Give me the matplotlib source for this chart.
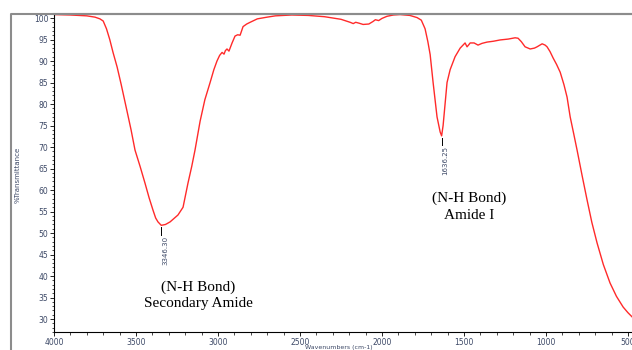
import matplotlib
matplotlib.use("Agg")
import matplotlib.pyplot as plt
from matplotlib.ticker import MultipleLocator
from matplotlib.lines import Line2D
from matplotlib.transforms import offset_copy

wavenumbers = [4000, 3900, 3800, 3750, 3720, 3700, 3680, 3660, 3640, 3615, 3590, 3555, 3530,
               3506, 3475, 3445, 3420, 3396, 3380, 3366, 3346, 3320, 3292, 3244, 3213, 3183,
               3160, 3140, 3109, 3080, 3048, 3025, 3006, 2990, 2975, 2963, 2955, 2945, 2933,
               2914, 2896, 2880, 2865, 2847, 2825, 2804, 2760, 2700, 2650, 2550, 2450, 2350,
               2250, 2194, 2175, 2160, 2140, 2115, 2080, 2054, 2040, 2020, 2000, 1969, 1930,
               1889, 1830, 1786, 1760, 1737, 1720, 1706, 1688, 1664, 1645, 1636, 1627, 1615,
               1603, 1584, 1554, 1523, 1493, 1481, 1470, 1462, 1438, 1414, 1390, 1359, 1320,
               1279, 1230, 1188, 1170, 1150, 1127, 1096, 1070, 1054, 1023, 1005, 993, 975,
               956, 935, 913, 890, 871, 852, 830, 810, 780, 749, 720, 688, 650, 609, 570,
               529, 500, 474]
transmittance = [100.8, 100.7, 100.5, 100.2, 99.8, 99.3, 97.5, 95.0, 92.0, 88.6, 84.5, 78.4, 74.0,
                 69.3, 65.5, 61.6, 58.2, 55.3, 53.5, 52.6, 51.8, 52.0, 52.6, 54.2, 56.0, 61.6,
                 65.5, 69.3, 76.0, 81.0, 85.0, 88.0, 90.0, 91.3, 92.0, 91.6, 92.4, 92.8, 92.3,
                 94.2, 95.8, 96.1, 96.0, 98.0, 98.6, 99.0, 99.8, 100.2, 100.5, 100.7, 100.6, 100.3,
                 99.7, 99.0, 98.7, 99.0, 98.8, 98.5, 98.6, 99.2, 99.6, 99.4, 99.9, 100.4, 100.7,
                 100.8, 100.6, 100.1, 99.5, 97.5, 94.5, 91.5, 85.0, 77.0, 73.5, 72.6, 75.0, 80.0,
                 85.0, 88.0, 91.0, 93.0, 94.2, 93.3, 93.8, 94.2, 94.2, 93.7, 94.1, 94.4, 94.6,
                 94.9, 95.1, 95.4, 95.3, 94.5, 93.3, 92.8, 93.0, 93.3, 94.0, 93.7, 93.3, 92.2,
                 90.7, 89.2, 87.4, 84.5, 81.6, 77.0, 73.0, 69.3, 63.5, 57.7, 52.5, 47.7, 42.7,
                 38.4, 35.3, 32.8, 31.5, 30.5]

peak_positions = [3346.30, 1636.25]
peak_values = [51.8, 72.6]
peak_labels = ["3346.30", "1636.25"]

annotation_lines = [["(N-H Bond)", "Secondary Amide"], ["(N-H Bond)", "Amide I"]]
annotation_x = [3121, 1469]
annotation_y = [[37.4, 33.7], [58.1, 54.2]]

fig = plt.figure(figsize=(6.32, 3.5), dpi=100)
ax = fig.add_axes([54 / 632, 1 - 332 / 350, 1 - 54 / 632, (332 - 14) / 350])

ax.plot(wavenumbers, transmittance, color="#ff2a2a", lw=1.0)
ax.set_xlim(4000, 475)
ax.set_ylim(27, 100.93)

ax.xaxis.set_major_locator(MultipleLocator(500))
ax.xaxis.set_minor_locator(MultipleLocator(100))
ax.yaxis.set_minor_locator(MultipleLocator(1))
ax.set_yticks(range(30, 101, 5))

label_color = "#3c4866"
ax.tick_params(axis="both", which="major", labelsize=5.5, labelcolor=label_color,
               length=3, width=0.6, direction="out", pad=1.0)
ax.tick_params(axis="both", which="minor", length=1.8, width=0.5, direction="out")

ax.spines["right"].set_visible(False)
ax.spines["top"].set_color("#8c8c8c")
ax.spines["top"].set_linewidth(1.5)
ax.spines["left"].set_linewidth(0.8)
ax.spines["bottom"].set_linewidth(0.8)

# outer frame line on the left
fig.add_artist(Line2D([11 / 632, 11 / 632, 1], [0, 1 - 14 / 350, 1 - 14 / 350],
                      transform=fig.transFigure, color="#8c8c8c", lw=1.5))

fig.text(18 / 632, 1 - 175 / 350, "%Transmittance", rotation=90, fontsize=5,
         color=label_color, ha="center", va="center")
fig.text(339 / 632, 0.3 / 350, "Wavenumbers (cm-1)", fontsize=4.5,
         color=label_color, ha="center", va="bottom")

for x, v, lab in zip(peak_positions, peak_values, peak_labels):
    ax.plot([x, x], [v - 0.4, v - 2.2], color="black", lw=0.7)
    t = offset_copy(ax.transData, fig=fig, x=4, y=0, units="dots")
    ax.text(x, v - 2.4, lab, rotation=90, fontsize=5, color=label_color,
            ha="center", va="top", transform=t)

for x, lines, ys in zip(annotation_x, annotation_lines, annotation_y):
    for line, y in zip(lines, ys):
        ax.text(x, y, line, fontsize=11, family="Liberation Serif",
                ha="center", va="center", color="black")

fig.savefig("out.png", dpi=100)
